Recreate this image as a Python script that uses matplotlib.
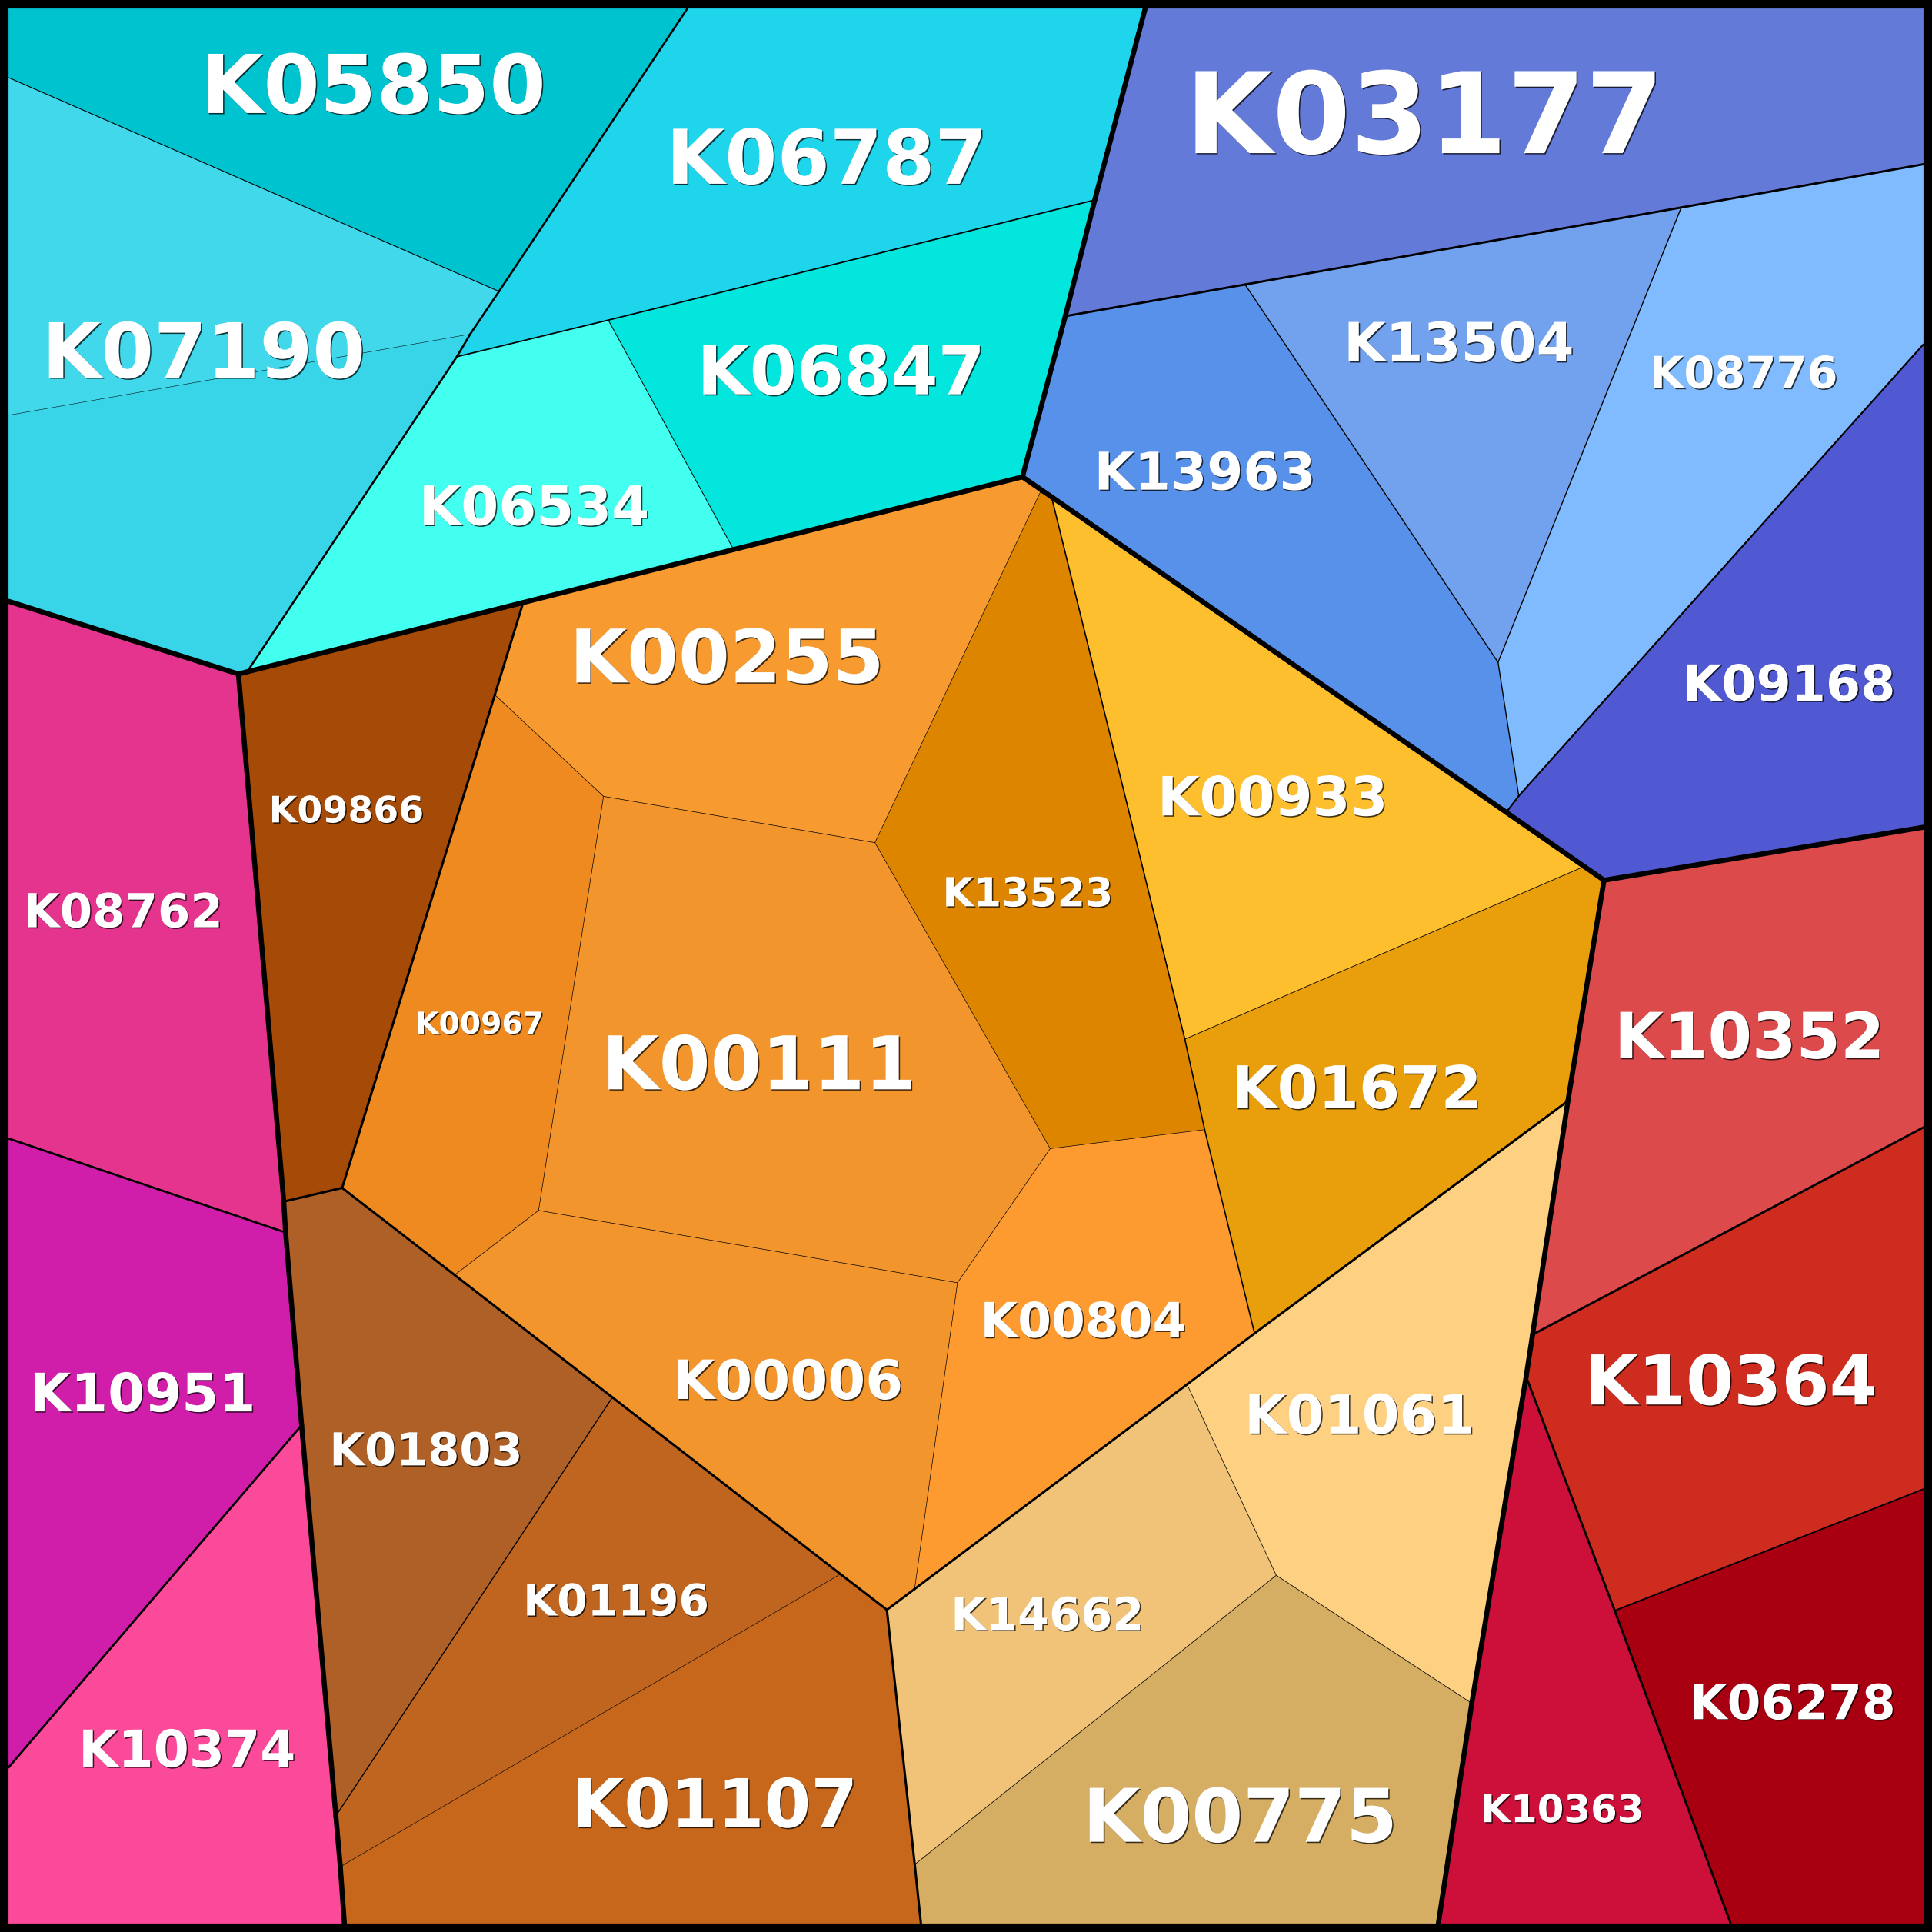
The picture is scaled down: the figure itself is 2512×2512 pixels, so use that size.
import matplotlib
matplotlib.use('Agg')
import matplotlib.pyplot as plt
import matplotlib.patheffects as pe
from matplotlib.patches import Polygon
from matplotlib.collections import LineCollection

# Voronoi treemap, canvas units 0..1568 (y grows downward)
nodes = {
    'TL': (7, 7), 'TR': (1561, 7), 'BR': (1561, 1561), 'BL': (7, 1561),
    'vt1': (557.8, 7), 'vt2': (929.4, 7),
    'vr1': (1561, 133.3), 'vr2': (1561, 279.5), 'vr3': (1561, 671.4),
    'vr4': (1561, 915), 'vr5': (1561, 1208.6),
    'vb1': (1404.6, 1561), 'vb2': (1167.4, 1561), 'vb3': (747.4, 1561), 'vb4': (279.5, 1561),
    'vl1': (7, 1434.4), 'vl2': (7, 924), 'vl3': (7, 488), 'vl4': (7, 337), 'vl5': (7, 63),
    'c1': (405, 236.5), 'c2': (381.6, 271.2), 'c3': (370.8, 289.5), 'c4': (200.6, 545.2),
    'c5': (193.5, 547), 'c6': (493.7, 259.8), 'c7': (888.5, 162.3), 'c8': (864.6, 256.6),
    'c9': (829.8, 387), 'c10': (845.2, 397.6), 'c11': (853.4, 403.2),
    'c12': (1010.5, 230.9), 'c13': (1364.5, 168.4), 'c14': (1215.8, 537.5),
    'c15': (1232.6, 646), 'c16': (1222.5, 659.3), 'c17': (1301.8, 714.4), 'c18': (1285.7, 703.2),
    'c19': (961.6, 843.4), 'c20': (977.7, 916.8), 'c21': (852.3, 932.2), 'c22': (710.1, 683.9),
    'c23': (489.8, 646.3), 'c24': (401.6, 563.9), 'c25': (424.6, 489), 'c26': (595.4, 446),
    'c27': (277.7, 964.1), 'c28': (230.3, 975.2), 'c29': (231.8, 1000.3), 'c30': (244.8, 1156.7),
    'c31': (272.6, 1473.8), 'c32': (276.2, 1515), 'c33': (437.1, 982.4), 'c34': (369, 1034.8),
    'c35': (497, 1134.1), 'c36': (682.1, 1277.5), 'c37': (719.8, 1306.5), 'c38': (742.3, 1289.6),
    'c39': (963.4, 1123.6), 'c41': (1018.2, 1082.2), 'c42': (777.1, 1041.1), 'c43': (1272.5, 893.5),
    'c44': (1243.8, 1083.2), 'c45': (1238.6, 1117.3), 'c46': (1035.8, 1278.5), 'c47': (1194.5, 1382.4),
    'c48': (742.4, 1513.2), 'c49': (1310.5, 1307.2),
}

cells = {
    'K05850': ['TL', 'vt1', 'c1', 'vl5'],
    'K07190a': ['vl5', 'c1', 'c2', 'vl4'],
    'K07190b': ['vl4', 'c2', 'c3', 'c4', 'c5', 'vl3'],
    'K06787': ['vt1', 'vt2', 'c7', 'c6', 'c3', 'c2', 'c1'],
    'K06534': ['c3', 'c6', 'c26', 'c25', 'c4'],
    'K06847': ['c6', 'c7', 'c8', 'c9', 'c26'],
    'K03177': ['vt2', 'TR', 'vr1', 'c13', 'c12', 'c8', 'c7'],
    'K13963': ['c8', 'c12', 'c14', 'c15', 'c16', 'c11', 'c10', 'c9'],
    'K13504': ['c12', 'c13', 'c14'],
    'K08776': ['c13', 'vr1', 'vr2', 'c15', 'c14'],
    'K09168': ['c16', 'c15', 'vr2', 'vr3', 'c17', 'c18'],
    'K00933': ['c11', 'c16', 'c18', 'c19'],
    'K01672': ['c19', 'c18', 'c17', 'c43', 'c41', 'c20'],
    'K13523': ['c10', 'c11', 'c19', 'c20', 'c21', 'c22'],
    'K00255': ['c25', 'c26', 'c9', 'c10', 'c22', 'c23', 'c24'],
    'K09866': ['c5', 'c4', 'c25', 'c24', 'c27', 'c28'],
    'K00967': ['c24', 'c23', 'c33', 'c34', 'c27'],
    'K00111': ['c23', 'c22', 'c21', 'c42', 'c33'],
    'K00006': ['c33', 'c42', 'c38', 'c37', 'c36', 'c35', 'c34'],
    'K00804': ['c42', 'c21', 'c20', 'c41', 'c39', 'c38'],
    'K01803': ['c28', 'c27', 'c34', 'c35', 'c31', 'c30', 'c29'],
    'K01196': ['c35', 'c36', 'c32', 'c31'],
    'K01107': ['c36', 'c37', 'c48', 'vb3', 'vb4', 'c32'],
    'K14662': ['c37', 'c38', 'c39', 'c46', 'c48'],
    'K01061': ['c39', 'c41', 'c43', 'c44', 'c45', 'c47', 'c46'],
    'K00775': ['c48', 'c46', 'c47', 'vb2', 'vb3'],
    'K08762': ['vl3', 'c5', 'c28', 'c29', 'vl2'],
    'K10951': ['vl2', 'c29', 'c30', 'vl1'],
    'K10374': ['vl1', 'c30', 'c31', 'c32', 'vb4', 'BL'],
    'K10352': ['c17', 'vr3', 'vr4', 'c44', 'c43'],
    'K10364': ['c44', 'vr4', 'vr5', 'c49', 'c45'],
    'K06278': ['c49', 'vr5', 'BR', 'vb1'],
    'K10363': ['c45', 'c49', 'vb1', 'vb2', 'c47'],
}

colors = {
    'K05850': '#00C3D0', 'K07190a': '#41D8EC', 'K07190b': '#38D4E8', 'K06787': '#1ED5EC',
    'K06847': '#03E6DE', 'K06534': '#43FFF0', 'K03177': '#647AD8', 'K13963': '#5791EA',
    'K13504': '#72A1EE', 'K08776': '#7FBBFE', 'K09168': '#5059D1', 'K08762': '#E5348E',
    'K10951': '#D01DAA', 'K10374': '#FC4A9B', 'K09866': '#A64A08', 'K00255': '#F79A2F',
    'K00967': '#EE8A1F', 'K00111': '#F2952D', 'K13523': '#DE8500', 'K00933': '#FDBF2D',
    'K01672': '#E99E0C', 'K00006': '#F3952D', 'K00804': '#FD9B31', 'K01803': '#AE6027',
    'K01196': '#BF6520', 'K01107': '#C6671C', 'K14662': '#F0C378', 'K01061': '#FED082',
    'K00775': '#D5AD63', 'K10352': '#DC4A4C', 'K10364': '#CE2C1F', 'K06278': '#A80011',
    'K10363': '#CD103A',
}

# hierarchy: (border width between children, [children])
tree = (4.7, [
    (1.9, [(0.8, ['K05850', (0.35, ['K07190a', 'K07190b'])]),
           (1.3, ['K06787', (0.7, ['K06847', 'K06534'])])]),
    (2.1, ['K03177', (1.6, [(1.0, ['K13963', 'K13504', 'K08776']), 'K09168'])]),
    (2.0, ['K08762', 'K10951', 'K10374']),
    (2.2, ['K09866',
           (1.2, [(0.5, ['K00255', 'K00967', 'K00111', 'K13523', 'K00006', 'K00804']),
                  (0.6, ['K00933', 'K01672'])]),
           (1.0, ['K01803', (0.45, ['K01196', 'K01107'])]),
           (0.55, ['K14662', 'K01061', 'K00775'])]),
    (2.1, ['K10352', 'K10363', (1.4, ['K10364', 'K06278'])]),
])

# label text: (x, y of cap centre, font size pt)
labels = {
    'K05850': (302.8, 67.7, 78), 'K06787': (671, 126.8, 72.5), 'K03177': (1156, 91, 108),
    'K07190': (165.5, 284, 73), 'K06847': (682.7, 300, 65), 'K06534': (433.5, 410, 52),
    'K13963': (978, 382, 50), 'K13504': (1184, 277.3, 52), 'K08776': (1415.2, 301.9, 42.5),
    'K09168': (1452, 554, 48), 'K00255': (590, 532, 71), 'K09866': (281.1, 656.7, 35),
    'K08762': (100.1, 738.7, 45), 'K00967': (389.1, 830, 29), 'K00111': (616, 862.2, 71),
    'K13523': (834, 723.7, 38.5), 'K00933': (1033, 645.8, 52), 'K01672': (1101, 882, 56.5),
    'K10352': (1420, 840, 61), 'K00006': (639.5, 1119.4, 52), 'K00804': (879.2, 1071, 46.5),
    'K10951': (115.7, 1129.8, 51), 'K01803': (345.8, 1175.9, 43.6), 'K01196': (500, 1298.2, 42),
    'K10374': (151.9, 1418.8, 49), 'K01107': (580, 1463, 64.5), 'K14662': (850, 1309.5, 43.6),
    'K00775': (1006.5, 1472.9, 71), 'K01061': (1103.5, 1147.4, 52), 'K10364': (1404.8, 1119.6, 66),
    'K06278': (1455, 1381, 46.5), 'K10363': (1268.1, 1467.5, 36.8),
}

# leaf -> list of (node uid, width) from the root
paths = {}
counter = [0]


def walk(node, trail):
    if isinstance(node, str):
        paths[node] = trail
        return
    counter[0] += 1
    here = trail + [(counter[0], node[0])]
    for child in node[1]:
        walk(child, here)


walk(tree, [])


def border_width(a, b):
    width = None
    for (ua, wa), (ub, wb) in zip(paths[a], paths[b]):
        if ua != ub:
            break
        width = wa
    return width


fig = plt.figure(figsize=(25.12, 25.12), dpi=100, facecolor='black')
ax = fig.add_axes([0, 0, 1, 1])
ax.set_xlim(0, 1568)
ax.set_ylim(1568, 0)
ax.axis('off')

for name, verts in cells.items():
    ax.add_patch(Polygon([nodes[v] for v in verts], closed=True, facecolor=colors[name],
                         edgecolor=colors[name], linewidth=0.5, zorder=1))

# shared edges get the width of the lowest common group
edge_cells = {}
for name, verts in cells.items():
    for a, b in zip(verts, verts[1:] + verts[:1]):
        edge_cells.setdefault(frozenset((a, b)), []).append(name)

by_width = {}
for edge, owners in edge_cells.items():
    if len(owners) != 2:
        continue
    a, b = tuple(edge)
    w = border_width(owners[0], owners[1])
    by_width.setdefault(w, []).append([nodes[a], nodes[b]])

for w in sorted(by_width):
    ax.add_collection(LineCollection(by_width[w], colors='black', linewidths=w,
                                     capstyle='round', joinstyle='round', zorder=2 + w))

# labels
scale = 2512 / 1568
shadow = [pe.SimplePatchShadow(offset=(1.1, -1.1), shadow_rgbFace='black', alpha=0.75), pe.Normal()]
for text, (x, y, size) in labels.items():
    size = size * 0.975
    cap = 0.729 * size * (100 / 72) / scale
    ax.text(x, y + cap / 2, text, color='white', fontsize=size, fontweight='bold',
            family='DejaVu Sans', ha='center', va='baseline', zorder=10, path_effects=shadow)

fig.savefig('out.png', dpi=100, facecolor='black')
